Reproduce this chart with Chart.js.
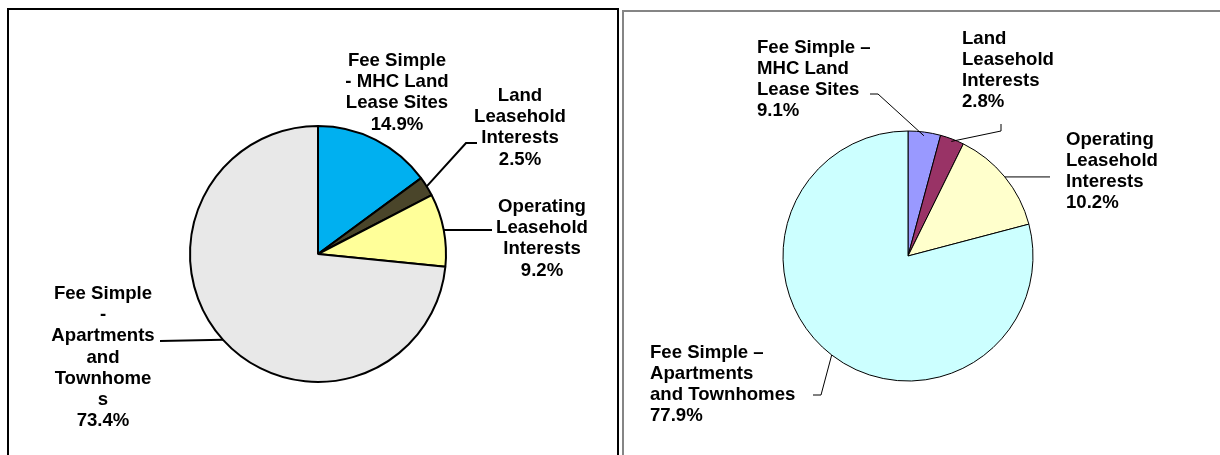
<!DOCTYPE html>
<html>
<head>
<meta charset="utf-8">
<script src="https://cdn.jsdelivr.net/npm/chart.js@4.4.1/dist/chart.umd.min.js"></script>
<style>
  html, body { margin: 0; padding: 0; background: #fff; }
  body { width: 1220px; height: 455px; position: relative; overflow: hidden; }
  .panel { position: absolute; box-sizing: border-box; }
  #panelLeft { left: 7px; top: 8px; width: 612px; height: 480px; border: 2px solid #000; }
  #panelRight { left: 622px; top: 10px; width: 640px; height: 480px; border: 2px solid #858585; }
  canvas { position: absolute; top: 0; }
  #chartLeft { left: 0; }
  #chartRight { left: 620px; }
</style>
</head>
<body>
<div class="panel" id="panelLeft"></div>
<div class="panel" id="panelRight"></div>
<canvas id="chartLeft" width="620" height="455"></canvas>
<canvas id="chartRight" width="600" height="455"></canvas>
<script>
// left chart: share of portfolio
const leftCategories = [
  ['Fee Simple', '- MHC Land', 'Lease Sites'],
  ['Land', 'Leasehold', 'Interests'],
  ['Operating', 'Leasehold', 'Interests'],
  ['Fee Simple', '-', 'Apartments', 'and', 'Townhome', 's']
];
const leftValues = [14.9, 2.5, 9.2, 73.4];
const leftPercents = ['14.9%', '2.5%', '9.2%', '73.4%'];
const leftColors = ['#00B0F0', '#4A452A', '#FFFF99', '#E8E8E8'];

// right chart: slice sizes as drawn, labels as printed
const rightCategories = [
  ['Fee Simple \u2013', 'MHC Land', 'Lease Sites'],
  ['Land', 'Leasehold', 'Interests'],
  ['Operating', 'Leasehold', 'Interests'],
  ['Fee Simple \u2013', 'Apartments', 'and Townhomes']
];
const rightValues = [4.2, 3.1, 13.6, 79.1];
const rightPercents = ['9.1%', '2.8%', '10.2%', '77.9%'];
const rightColors = ['#9999FF', '#993366', '#FFFFCC', '#CCFFFF'];

// label placement (canvas px): anchor x, first baseline, alignment, leader bends
const leftLabelPos = [
  { x: 397, y: 66, align: 'center', leader: null },
  { x: 520, y: 101, align: 'center', depth: 1, leader: [[466, 143], [477, 143]] },
  { x: 542, y: 212, align: 'center', depth: 1, leader: [[492, null]] },
  { x: 103, y: 299, align: 'center', depth: 1, leader: [[160, 341]] }
];
const rightLabelPos = [
  { x: 137, y: 52.5, align: 'left', depth: 0.97, leader: [[258, 94], [250, 94]] },
  { x: 342, y: 43.5, align: 'left', depth: 0.98, leader: [[381, 131], [381, 124]] },
  { x: 446, y: 144.5, align: 'left', depth: 1, leader: [[430, null]] },
  { x: 30, y: 357.5, align: 'left', depth: 1, leader: [[201, 395], [193, 395]] }
];

const lineHeight = 21.2;

const leaderLabels = {
  id: 'leaderLabels',
  afterDatasetsDraw(chart, args, opts) {
    const ctx = chart.ctx;
    const arcs = chart.getDatasetMeta(0).data;
    ctx.save();
    // leader lines
    ctx.strokeStyle = '#000';
    ctx.lineWidth = opts.leaderWidth;
    opts.pos.forEach((p, i) => {
      if (!p.leader) return;
      const arc = arcs[i];
      const a = (arc.startAngle + arc.endAngle) / 2;
      const r = arc.outerRadius * p.depth;
      let px = arc.x + Math.cos(a) * r;
      let py = arc.y + Math.sin(a) * r;
      ctx.beginPath();
      ctx.moveTo(px, py);
      p.leader.forEach(pt => {
        px = pt[0];
        py = pt[1] === null ? py : pt[1];
        ctx.lineTo(px, py);
      });
      ctx.stroke();
    });
    // text
    ctx.font = 'bold 18.6px "Liberation Sans", Arial, sans-serif';
    ctx.fillStyle = '#000';
    ctx.textBaseline = 'alphabetic';
    opts.pos.forEach((p, i) => {
      ctx.textAlign = p.align;
      const lines = opts.categories[i].concat([opts.percents[i]]);
      lines.forEach((t, k) => ctx.fillText(t, p.x, p.y + k * lineHeight));
    });
    ctx.restore();
  }
};

function makePie(canvasId, values, colors, border, radius, padding, labelOpts) {
  return new Chart(document.getElementById(canvasId), {
    type: 'pie',
    data: {
      labels: labelOpts.categories.map(c => c.join(' ')),
      datasets: [{
        data: values,
        backgroundColor: colors,
        borderColor: '#000',
        borderWidth: border,
        hoverOffset: 0,
        radius: radius
      }]
    },
    options: {
      responsive: false,
      animation: false,
      layout: { padding: padding },
      plugins: {
        legend: { display: false },
        tooltip: { enabled: false },
        leaderLabels: labelOpts
      }
    },
    plugins: [leaderLabels]
  });
}

makePie('chartLeft', leftValues, leftColors, 2, 128,
  { left: 188, right: 172, top: 124, bottom: 71 },
  { categories: leftCategories, percents: leftPercents, pos: leftLabelPos, leaderWidth: 2 });

makePie('chartRight', rightValues, rightColors, 1, 125,
  { left: 160, right: 184, top: 128, bottom: 71 },
  { categories: rightCategories, percents: rightPercents, pos: rightLabelPos, leaderWidth: 1 });
</script>
</body>
</html>
